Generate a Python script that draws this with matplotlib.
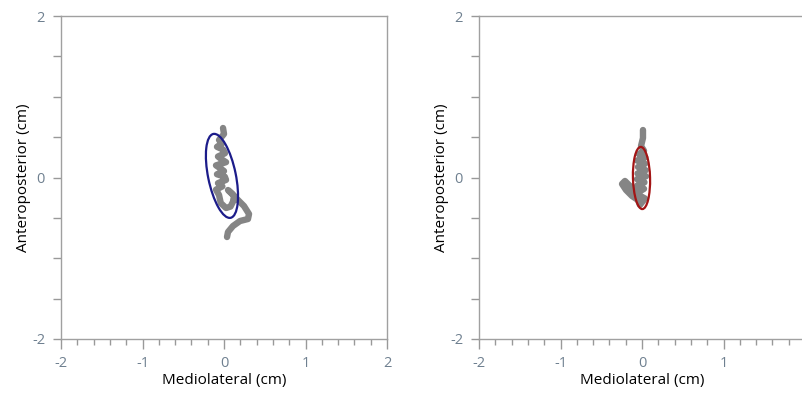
import numpy as np
import matplotlib.pyplot as plt
from matplotlib.patches import Ellipse
from matplotlib.ticker import MultipleLocator

plt.rcParams['font.family'] = ['Open Sans', 'DejaVu Sans']
plt.rcParams['axes.unicode_minus'] = False

# trayectoria del centro de presion, panel izquierdo (cm)
left_ml = [-0.012, 0.0, -0.061, -0.025, -0.086, -0.010, 0.012, -0.074, -0.030, 0.025,
           -0.098, -0.040, 0.0, -0.086, 0.010, 0.025, -0.074, -0.020, -0.098, -0.061,
           -0.040, 0.025, 0.080, 0.110, 0.123, 0.049, 0.100, 0.147, 0.245, 0.307,
           0.294, 0.196, 0.110, 0.049, 0.037]
left_ap = [0.613, 0.539, 0.464, 0.420, 0.380, 0.345, 0.300, 0.260, 0.225, 0.190,
           0.150, 0.110, 0.080, 0.040, 0.010, -0.030, -0.070, -0.110, -0.150, -0.217,
           -0.316, -0.378, -0.360, -0.300, -0.229, -0.155, -0.200, -0.254, -0.353, -0.452,
           -0.514, -0.539, -0.601, -0.675, -0.737]

# panel derecho
right_ml = [0.012, 0.012, -0.012, 0.025, -0.040, 0.040, -0.061, 0.037, -0.049, 0.045,
            -0.055, 0.049, -0.061, 0.030, -0.060, 0.025, -0.074, 0.037, -0.025, -0.049,
            -0.123, -0.196, -0.245, -0.209, -0.135, -0.061]
right_ap = [0.588, 0.489, 0.390, 0.330, 0.290, 0.250, 0.210, 0.170, 0.130, 0.090,
            0.050, 0.015, -0.020, -0.060, -0.100, -0.140, -0.200, -0.260, -0.340, -0.279,
            -0.229, -0.155, -0.080, -0.043, -0.118, -0.180]

# elipses: centro, ancho, alto, angulo (grados)
left_ellipse = (-0.025, 0.02, 0.34, 1.06, 11.5)
right_ellipse = (-0.006, -0.006, 0.21, 0.77, 1.5)

fig = plt.figure(figsize=(8.03, 3.96), dpi=100)
ax1 = fig.add_axes([61/803, 1-339/396, 326/803, 323/396])
ax2 = fig.add_axes([479/803, 1-339/396, 326/803, 323/396])

paneles = [
    (ax1, left_ml, left_ap, left_ellipse, '#1c1c8a'),
    (ax2, right_ml, right_ap, right_ellipse, '#a31515'),
]

for ax, ml, ap, el, col in paneles:
    ax.plot(ml, ap, color='#858585', lw=4.6, solid_capstyle='round',
            solid_joinstyle='round', zorder=2)
    cx, cy, w, h, ang = el
    ax.add_patch(Ellipse((cx, cy), w, h, angle=ang, fill=False, ec=col, lw=1.6, zorder=3))

    ax.set_xlim(-2, 2)
    ax.set_ylim(-2, 2)
    ax.xaxis.set_major_locator(MultipleLocator(1))
    ax.xaxis.set_minor_locator(MultipleLocator(0.2))
    ax.yaxis.set_major_locator(MultipleLocator(2))
    ax.yaxis.set_minor_locator(MultipleLocator(0.5))
    ax.tick_params(axis='both', which='both', direction='out', color='#999999',
                   labelcolor='#6f8090', labelsize=10.5, width=1)
    ax.tick_params(axis='x', which='major', length=7, pad=5)
    ax.tick_params(axis='x', which='minor', length=4.5)
    ax.tick_params(axis='y', which='both', length=5.5, pad=6)
    for s in ax.spines.values():
        s.set_color('#a0a0a0')
        s.set_linewidth(1)
    ax.set_xlabel('Mediolateral (cm)', fontsize=11, labelpad=2)
    ax.set_ylabel('Anteroposterior (cm)', fontsize=11, labelpad=1)

fig.savefig('out.png', dpi=100)
